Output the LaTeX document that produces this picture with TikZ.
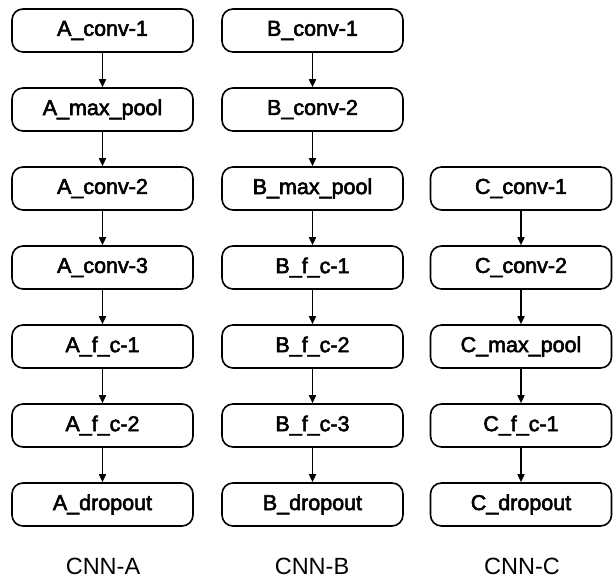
\documentclass[tikz,border=0pt]{standalone}
\usepackage{fontspec}
\setmainfont{Liberation Sans}
\newfontfamily\layerfont{Liberation Sans}[FakeBold=2.6]
\usetikzlibrary{arrows.meta}
\tikzset{
  layer/.style={draw,line width=1.6pt,rounded corners=11pt,minimum width=181pt,minimum height=43pt,inner sep=0pt,font=\layerfont\fontsize{21.5}{25}\selectfont},
  flow/.style={line width=1.6pt,-{Triangle[length=8pt,width=7pt]}},
  netname/.style={font=\fontsize{23.5}{27}\selectfont}
}
\begin{document}
\begin{tikzpicture}[x=1pt,y=1pt]
\useasboundingbox (0,0) rectangle (614,-578);

\node[layer] (a1) at (102.5,-30.5) {A\_conv-1};
\node[layer] (a2) at (102.5,-109.5) {A\_max\_pool};
\node[layer] (a3) at (102.5,-188.5) {A\_conv-2};
\node[layer] (a4) at (102.5,-267.5) {A\_conv-3};
\node[layer] (a5) at (102.5,-346.5) {A\_f\_c-1};
\node[layer] (a6) at (102.5,-425.5) {A\_f\_c-2};
\node[layer] (a7) at (102.5,-504.5) {A\_dropout};

\node[layer] (b1) at (312.5,-30.5) {B\_conv-1};
\node[layer] (b2) at (312.5,-109.5) {B\_conv-2};
\node[layer] (b3) at (312.5,-188.5) {B\_max\_pool};
\node[layer] (b4) at (312.5,-267.5) {B\_f\_c-1};
\node[layer] (b5) at (312.5,-346.5) {B\_f\_c-2};
\node[layer] (b6) at (312.5,-425.5) {B\_f\_c-3};
\node[layer] (b7) at (312.5,-504.5) {B\_dropout};

\node[layer] (c1) at (521,-188.5) {C\_conv-1};
\node[layer] (c2) at (521,-267.5) {C\_conv-2};
\node[layer] (c3) at (521,-346.5) {C\_max\_pool};
\node[layer] (c4) at (521,-425.5) {C\_f\_c-1};
\node[layer] (c5) at (521,-504.5) {C\_dropout};

\draw[flow] (a1) -- (a2);
\draw[flow] (a2) -- (a3);
\draw[flow] (a3) -- (a4);
\draw[flow] (a4) -- (a5);
\draw[flow] (a5) -- (a6);
\draw[flow] (a6) -- (a7);

\draw[flow] (b1) -- (b2);
\draw[flow] (b2) -- (b3);
\draw[flow] (b3) -- (b4);
\draw[flow] (b4) -- (b5);
\draw[flow] (b5) -- (b6);
\draw[flow] (b6) -- (b7);

\draw[flow] (c1) -- (c2);
\draw[flow] (c2) -- (c3);
\draw[flow] (c3) -- (c4);
\draw[flow] (c4) -- (c5);

\node[netname] (na) at (103,-566) {CNN-A};
\node[netname] (nb) at (312,-566) {CNN-B};
\node[netname] (nc) at (522,-566) {CNN-C};
\end{tikzpicture}
\end{document}
